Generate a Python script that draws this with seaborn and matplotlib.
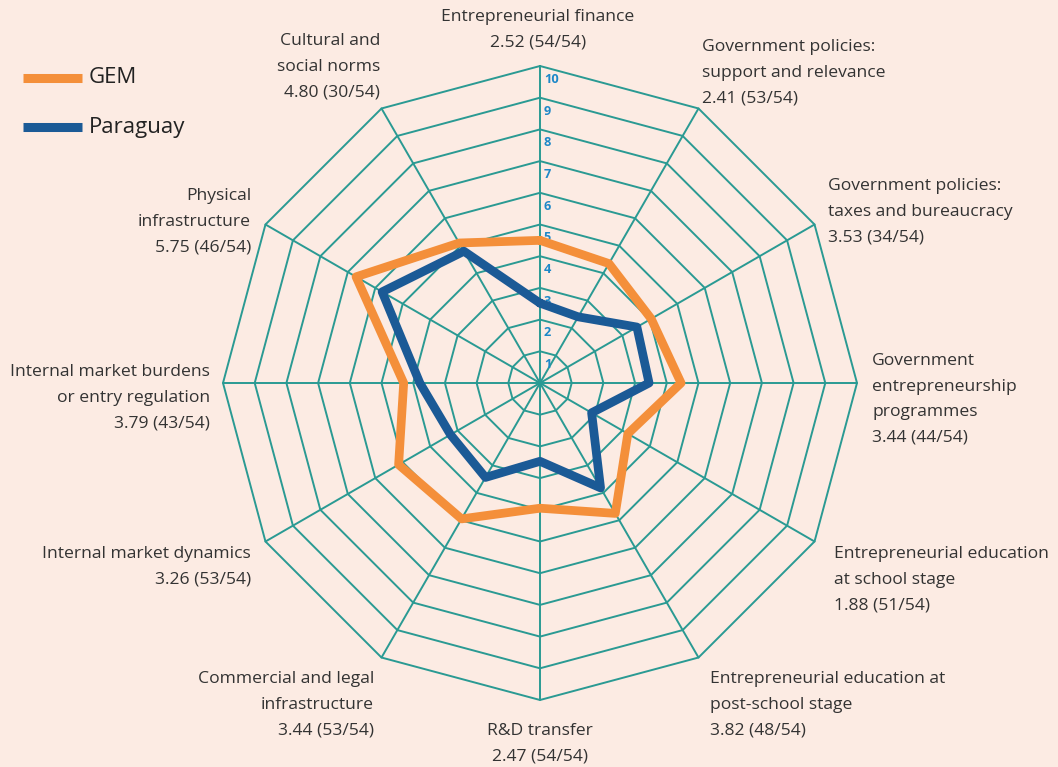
import numpy as np
import pandas as pd
import seaborn as sns
import matplotlib.pyplot as plt

# categories clockwise from top
labels = [
    "Entrepreneurial finance\n2.52 (54/54)",
    "Government policies:\nsupport and relevance\n2.41 (53/54)",
    "Government policies:\ntaxes and bureaucracy\n3.53 (34/54)",
    "Government\nentrepreneurship\nprogrammes\n3.44 (44/54)",
    "Entrepreneurial education\nat school stage\n1.88 (51/54)",
    "Entrepreneurial education at\npost-school stage\n3.82 (48/54)",
    "R&D transfer\n2.47 (54/54)",
    "Commercial and legal\ninfrastructure\n3.44 (53/54)",
    "Internal market dynamics\n3.26 (53/54)",
    "Internal market burdens\nor entry regulation\n3.79 (43/54)",
    "Physical\ninfrastructure\n5.75 (46/54)",
    "Cultural and\nsocial norms\n4.80 (30/54)",
]
paraguay = [2.52, 2.41, 3.53, 3.44, 1.88, 3.82, 2.47, 3.44, 3.26, 3.79, 5.75, 4.80]
gem = [4.5, 4.35, 4.05, 4.45, 3.2, 4.75, 3.95, 4.95, 5.15, 4.3, 6.7, 5.1]
ticks = list(range(1, 11))

BG = "#fcebe3"
GRID = "#2a9a93"
ORANGE = "#f48f3a"
BLUE = "#1b5a96"
TXT = "#333333"

sns.set_theme(style="white")
plt.rcParams["font.family"] = ["Open Sans", "DejaVu Sans"]

fig = plt.figure(figsize=(10.58, 7.67), dpi=100, facecolor=BG)
ax = fig.add_axes([0, 0, 1, 1], facecolor=BG)
S = 31.7  # px per unit
cx, cy = 540, 383
ax.set_xlim(-cx / S, (1058 - cx) / S)
ax.set_ylim(-(767 - cy) / S, cy / S)
ax.set_aspect("equal")
ax.axis("off")

n = len(labels)
ang = np.arange(n) * 2 * np.pi / n
sx, sy = np.sin(ang), np.cos(ang)

# polygon grid
for r in ticks:
    ax.plot(np.append(sx, sx[0]) * r, np.append(sy, sy[0]) * r, color=GRID, lw=1.4, zorder=1)
for i in range(n):
    ax.plot([0, sx[i] * 10], [0, sy[i] * 10], color=GRID, lw=1.4, zorder=1)
for t in ticks:
    ax.text(0.12, t - 0.42, str(t), color="#1e88c8", fontsize=9.2, fontweight="bold",
            ha="left", va="center", zorder=2)

def closed(vals, name):
    v = np.array(vals + vals[:1])
    return pd.DataFrame({"x": np.append(sx, sx[0]) * v, "y": np.append(sy, sy[0]) * v,
                         "series": name})

sns.lineplot(data=closed(gem, "GEM"), x="x", y="y", sort=False, estimator=None,
             color=ORANGE, lw=6.3, ax=ax, zorder=3, legend=False)
sns.lineplot(data=closed(paraguay, "Paraguay"), x="x", y="y", sort=False, estimator=None,
             color=BLUE, lw=6.3, ax=ax, zorder=4, legend=False)

# label placement: (px x, px y top, ha)
pos = [
    (538, 9, "center"), (702, 39, "left"), (828, 178, "left"), (872, 353, "left"),
    (834, 546, "left"), (710, 671, "left"), (540, 723, "center"), (374, 671, "right"),
    (251, 546, "right"), (210, 364, "right"), (251, 188, "right"), (380, 33, "right"),
]
for lab, (px, py, ha) in zip(labels, pos):
    ax.text((px - cx) / S, (cy - py) / S, lab, ha=ha, va="top", multialignment=ha,
            fontsize=12.6, color=TXT, linespacing=1.8)

# legend
for yy, col, name in [(78, ORANGE, "GEM"), (127, BLUE, "Paraguay")]:
    ax.plot([(23 - cx) / S, (82 - cx) / S], [(cy - yy) / S] * 2, color=col, lw=6.5,
            solid_capstyle="butt")
    ax.text((89 - cx) / S, (cy - yy) / S, name, ha="left", va="center",
            fontsize=16, color="#222222")

fig.savefig("out.png", dpi=100, facecolor=BG)
